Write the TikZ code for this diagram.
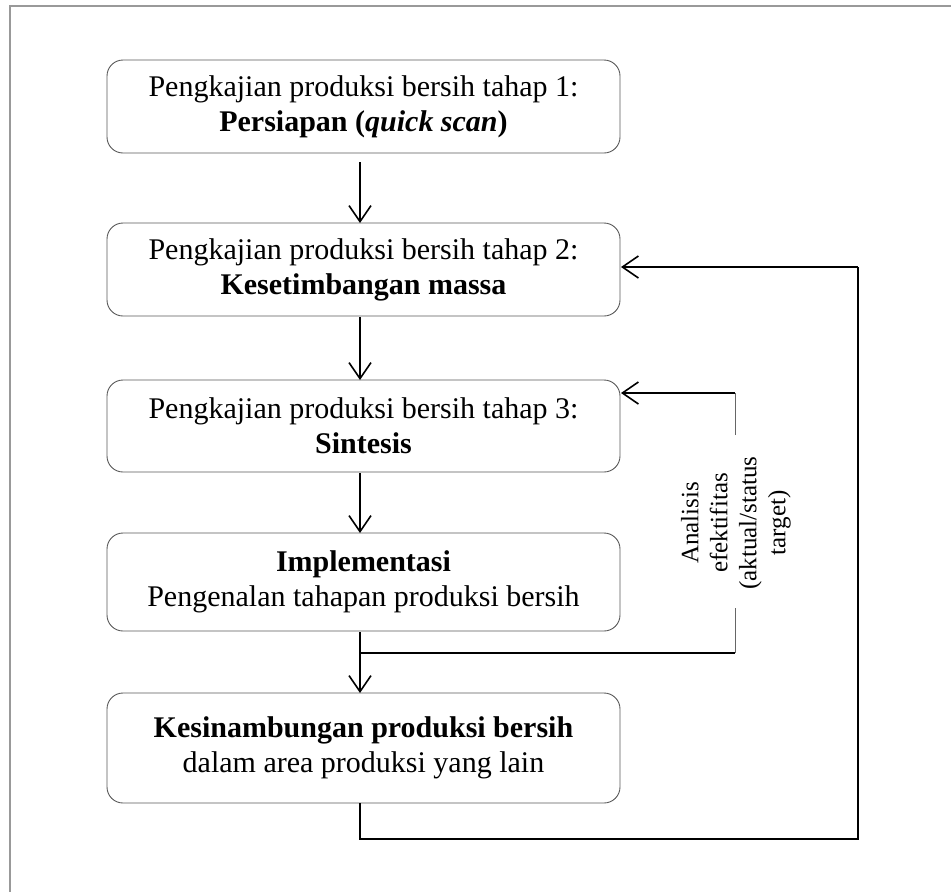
\documentclass[tikz,border=0pt]{standalone}
\usepackage{fontspec}
\setmainfont{Liberation Serif}
\usetikzlibrary{arrows.meta}
\begin{document}
\begin{tikzpicture}[x=1pt,y=-1pt,
  box/.style={draw=black!65, line width=0.9pt, rounded corners=16pt, minimum width=513pt, align=center, inner sep=0pt, font=\fontsize{30}{35}\selectfont},
  arr/.style={line width=1.8pt, -{Straight Barb[length=16pt,width=22pt,line width=1.6pt]}},
  thinline/.style={line width=1.1pt},
  grayline/.style={line width=1pt, draw=black!60},
  frame/.style={line width=2pt, draw=black!40}
]
\useasboundingbox (0,0) rectangle (951,892);
\draw[frame] (951,5.5) -- (9.5,5.5) -- (9.5,892);

\node[box, minimum height=93pt] (b1) at (363.5,106.5) {Pengkajian produksi bersih tahap 1:\\\textbf{Persiapan (\textit{quick scan})}};
\node[box, minimum height=93pt] (b2) at (363.5,269.5) {Pengkajian produksi bersih tahap 2:\\\textbf{Kesetimbangan massa}};
\node[box, minimum height=92pt] (b3) at (363.5,426) {Pengkajian produksi bersih tahap 3:\\\textbf{Sintesis}};
\node[box, minimum height=98pt] (b4) at (363.5,582) {\textbf{Implementasi}\\Pengenalan tahapan produksi bersih};
\node[box, minimum height=110pt] (b5) at (363.5,748) {\textbf{Kesinambungan produksi bersih}\\dalam area produksi yang lain};

\coordinate (a1s) at (360,162);
\coordinate (a1e) at (360,223);
\coordinate (a2s) at (360,317);
\coordinate (a2e) at (360,380);
\coordinate (a3s) at (360,473);
\coordinate (a3e) at (360,533);
\coordinate (a4s) at (360,632);
\coordinate (a4e) at (360,693);
\draw[arr] (a1s) -- (a1e);
\draw[arr] (a2s) -- (a2e);
\draw[arr] (a3s) -- (a3e);
\draw[arr] (a4s) -- (a4e);

% inner feedback
\node[rotate=90, align=center, font=\fontsize{25}{29}\selectfont] (lab) at (736,523) {Analisis\\efektifitas\\(aktual/status\\target)};
\coordinate (j) at (360,653);
\coordinate (c1) at (735,653);
\coordinate (c2) at (735,608);
\coordinate (c3) at (735,435);
\coordinate (c4) at (735,393);
\coordinate (t3) at (621,393);
\draw[thinline] (j) -- (c1);
\draw[grayline] (c1) -- (c2);
\draw[grayline] (c3) -- (c4);
\draw[arr] (c4) -- (t3);

% outer feedback
\coordinate (o1) at (360,803);
\coordinate (o2) at (360,839);
\coordinate (o3) at (858,839);
\coordinate (o4) at (858,267);
\coordinate (t2) at (621,267);
\draw[line width=1.8pt] (o1) -- (o2) -- (o3) -- (o4);
\draw[arr] (o4) -- (t2);
\end{tikzpicture}
\end{document}
